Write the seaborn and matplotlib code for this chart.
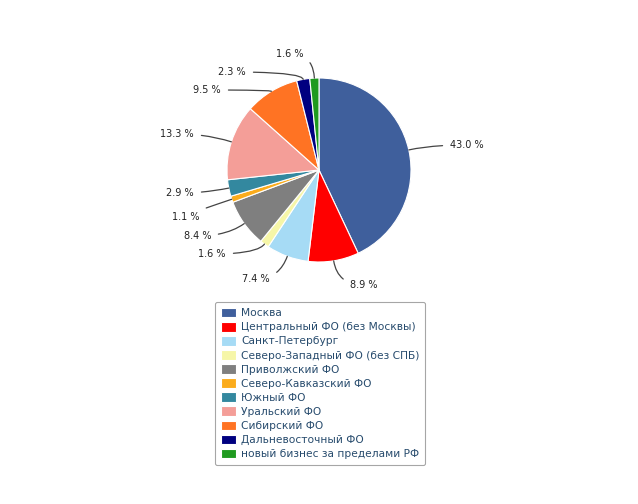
import numpy as np
import matplotlib
matplotlib.use('Agg')
import matplotlib.pyplot as plt
import seaborn as sns

regions = ['Москва', 'Центральный ФО (без Москвы)', 'Санкт-Петербург',
           'Северо-Западный ФО (без СПБ)', 'Приволжский ФО', 'Северо-Кавказский ФО',
           'Южный ФО', 'Уральский ФО', 'Сибирский ФО', 'Дальневосточный ФО',
           'новый бизнес за пределами РФ']
shares = [43.0, 8.9, 7.4, 1.6, 8.4, 1.1, 2.9, 13.3, 9.5, 2.3, 1.6]
colors = ['#3f5f9c', '#ff0000', '#a6dbf5', '#f6f6a8', '#7f7f7f', '#fbac1c',
          '#33889f', '#f49e98', '#ff7323', '#000080', '#1f9a1f']

# label text positions, pixels from top-left (layout only)
label_pos = [(450, 145), (350, 285), (270, 279), (226, 254), (211, 236), (199, 217),
             (194, 193), (194, 134), (221, 90), (246, 72), (304, 54)]

W, H = 638, 504
cx, cy, R = 319, 504 - 170, 92

sns.set_style('white')
plt.rcParams['font.family'] = ['DejaVu Sans']

fig = plt.figure(figsize=(W / 100, H / 100), dpi=100)
ax = fig.add_axes([0, 0, 1, 1])
ax.set_xlim(0, W)
ax.set_ylim(0, H)
ax.set_aspect('equal')
ax.axis('off')

wedges, _ = ax.pie(shares, colors=colors, startangle=90, counterclock=False,
                   center=(cx, cy), radius=R,
                   wedgeprops=dict(edgecolor='white', linewidth=0.8))
ax.set_xlim(0, W)
ax.set_ylim(0, H)

for w, val, (lx, ly) in zip(wedges, shares, label_pos):
    ang_deg = (w.theta1 + w.theta2) / 2
    ang = np.deg2rad(ang_deg)
    px, py = cx + R * np.cos(ang), cy + R * np.sin(ang)
    ty = H - ly
    right = lx > cx + 20
    ax.annotate(f'{val:.1f} %', xy=(px, py), xytext=(lx, ty),
                ha='left' if right else 'right', va='center',
                fontsize=7, color='#222222',
                arrowprops=dict(arrowstyle='-', color='#444444', lw=0.9,
                                shrinkA=3, shrinkB=0,
                                connectionstyle=f'angle3,angleA=0,angleB={ang_deg:.1f}'))

leg = ax.legend(wedges, regions, loc='upper left',
                bbox_to_anchor=(215 / W, 1 - 302 / H), bbox_transform=fig.transFigure,
                borderaxespad=0,
                fontsize=7.7, labelcolor='#274b6d', frameon=True, fancybox=True,
                edgecolor='#909090', handlelength=1.4, handleheight=1.0,
                handletextpad=0.5, labelspacing=0.34, borderpad=0.55)
leg.get_frame().set_linewidth(0.8)

fig.savefig('out.png', dpi=100, facecolor='white')
